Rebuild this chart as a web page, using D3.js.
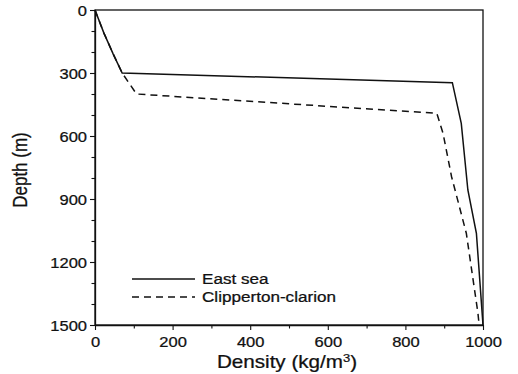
<!DOCTYPE html>
<html>
<head>
<meta charset="utf-8">
<script src="https://cdn.jsdelivr.net/npm/d3@7"></script>
<style>
  body { margin: 0; background: #fff; }
  svg { display: block; }
  text { font-family: "Liberation Sans", Arial, Helvetica, sans-serif; fill: #111; stroke: #111; stroke-width: 0.25px; }
</style>
</head>
<body>
<svg id="chart" width="518" height="374"></svg>
<script>
// Density profiles with depth
const densityLabels = [0, 200, 400, 600, 800, 1000];
const depthLabels = [0, 300, 600, 900, 1200, 1500];
const seriesNames = ["East sea", "Clipperton-clarion"];

const eastSeaDensity = [0, 23, 47, 70, 921, 944, 961, 983, 1000];
const eastSeaDepth   = [0, 110, 210, 300, 346, 540, 857, 1063, 1500];

const clippertonDensity = [0, 23, 47, 70, 107, 881, 897, 919, 957, 987, 990];
const clippertonDepth   = [0, 110, 210, 300, 400, 492, 587, 794, 1063, 1444, 1500];

const ink = "#111";
const SX = 1.18; // horizontal glyph stretch used for all lettering

const svg = d3.select("#chart");
const x = d3.scaleLinear().domain([0, 1000]).range([95, 483]);
const y = d3.scaleLinear().domain([0, 1500]).range([10, 325]);

// Frame
svg.append("rect")
  .attr("x", x(0)).attr("y", y(0))
  .attr("width", x(1000) - x(0)).attr("height", y(1500) - y(0))
  .attr("fill", "none").attr("stroke", ink).attr("stroke-width", 1.3);

// Left axis: ticks every 100 m, labels every 300 m
const gy = svg.append("g").attr("transform", `translate(${x(0)},0)`)
  .call(d3.axisLeft(y).tickValues(d3.range(0, 1501, 100)).tickSizeOuter(0)
    .tickFormat(d => depthLabels.includes(d) ? d : ""));
gy.select(".domain").attr("stroke", ink).attr("stroke-width", 1.3);
gy.selectAll(".tick line").attr("stroke", ink).attr("stroke-width", 1.1)
  .attr("x2", d => depthLabels.includes(d) ? -5 : -3.5);
gy.selectAll(".tick text")
  .attr("x", null).attr("dy", null)
  .attr("transform", "translate(-8,5) scale(" + SX + ",1)")
  .attr("text-anchor", "end")
  .style("font-size", "14px").attr("fill", ink);
gy.attr("font-family", null).attr("font-size", null);

// Bottom axis: ticks every 100, labels every 200
const gx = svg.append("g").attr("transform", `translate(0,${y(1500)})`)
  .call(d3.axisBottom(x).tickValues(d3.range(0, 1001, 100)).tickSizeOuter(0)
    .tickFormat(d => densityLabels.includes(d) ? d : ""));
gx.select(".domain").attr("stroke", ink).attr("stroke-width", 1.3);
gx.selectAll(".tick line").attr("stroke", ink).attr("stroke-width", 1.1)
  .attr("y2", d => densityLabels.includes(d) ? 5 : 3.5);
gx.selectAll(".tick text")
  .attr("y", null).attr("dy", null)
  .attr("transform", "translate(0,22) scale(" + SX + ",1)")
  .attr("text-anchor", "middle")
  .style("font-size", "14px").attr("fill", ink);
gx.attr("font-family", null).attr("font-size", null);

// Profiles
const line = d3.line().x(d => x(d[0])).y(d => y(d[1]));
const eastSea = eastSeaDensity.map((v, i) => [v, eastSeaDepth[i]]);
const clipperton = clippertonDensity.map((v, i) => [v, clippertonDepth[i]]);

svg.append("path").datum(clipperton)
  .attr("d", line).attr("fill", "none").attr("stroke", ink)
  .attr("stroke-width", 1.5).attr("stroke-dasharray", "7,5");
svg.append("path").datum(eastSea)
  .attr("d", line).attr("fill", "none").attr("stroke", ink)
  .attr("stroke-width", 1.5);

// Legend
const legend = svg.append("g");
const rows = [{ name: seriesNames[0], dash: null, y: 279 },
              { name: seriesNames[1], dash: "7,5", y: 297 }];
rows.forEach(r => {
  legend.append("line")
    .attr("x1", 132).attr("x2", 195).attr("y1", r.y).attr("y2", r.y)
    .attr("stroke", ink).attr("stroke-width", 1.4)
    .attr("stroke-dasharray", r.dash);
  legend.append("text")
    .attr("transform", `translate(202,${r.y + 5.2}) scale(${SX},1)`)
    .style("font-size", "14.5px")
    .text(r.name);
});

// Axis titles
const xt = svg.append("text")
  .attr("transform", `translate(287,368) scale(${SX},1)`)
  .attr("text-anchor", "middle").style("font-size", "17.5px");
xt.append("tspan").text("Density (kg/m");
xt.append("tspan").text("3").attr("dy", -6).style("font-size", "11px");
xt.append("tspan").text(")").attr("dy", 6);

svg.append("text")
  .attr("transform", `translate(27,170) scale(${SX},1) rotate(-90)`)
  .attr("text-anchor", "middle").style("font-size", "17px")
  .text("Depth (m)");
</script>
</body>
</html>
